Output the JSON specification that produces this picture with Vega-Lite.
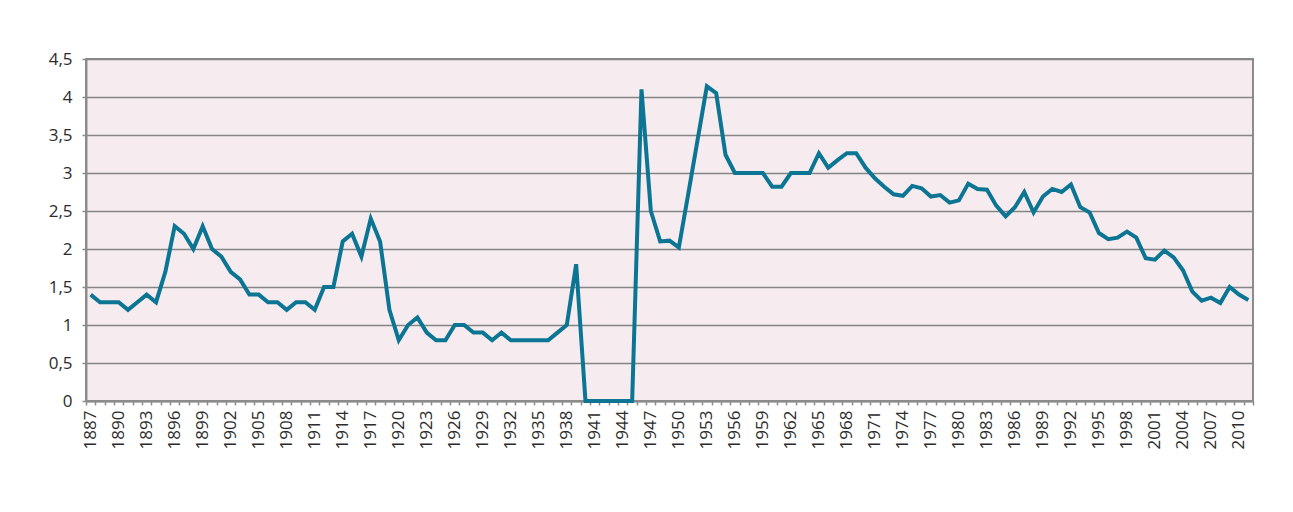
{
  "$schema": "https://vega.github.io/schema/vega-lite/v6.json",
  "autosize": "none",
  "width": 1167,
  "height": 342,
  "padding": {"left": 86, "top": 59, "right": 40, "bottom": 111},
  "background": "#ffffff",
  "config": {
    "font": "Open Sans",
    "view": {"fill": "#f6ecf0", "stroke": "#8c8c8c", "strokeWidth": 2},
    "axis": {
      "labelFont": "Open Sans",
      "labelFontSize": 17,
      "labelColor": "#2b2b2b",
      "domainColor": "#8c8c8c",
      "domainWidth": 2,
      "tickColor": "#8c8c8c",
      "tickWidth": 1.5,
      "gridColor": "#858585",
      "gridWidth": 1.6,
      "gridOpacity": 1,
      "title": null
    }
  },
  "data": {
    "values": [
      {"year": 1887, "value": 1.4}, {"year": 1888, "value": 1.3}, {"year": 1889, "value": 1.3},
      {"year": 1890, "value": 1.3}, {"year": 1891, "value": 1.2}, {"year": 1892, "value": 1.3},
      {"year": 1893, "value": 1.4}, {"year": 1894, "value": 1.3}, {"year": 1895, "value": 1.7},
      {"year": 1896, "value": 2.3}, {"year": 1897, "value": 2.2}, {"year": 1898, "value": 2.0},
      {"year": 1899, "value": 2.3}, {"year": 1900, "value": 2.0}, {"year": 1901, "value": 1.9},
      {"year": 1902, "value": 1.7}, {"year": 1903, "value": 1.6}, {"year": 1904, "value": 1.4},
      {"year": 1905, "value": 1.4}, {"year": 1906, "value": 1.3}, {"year": 1907, "value": 1.3},
      {"year": 1908, "value": 1.2}, {"year": 1909, "value": 1.3}, {"year": 1910, "value": 1.3},
      {"year": 1911, "value": 1.2}, {"year": 1912, "value": 1.5}, {"year": 1913, "value": 1.5},
      {"year": 1914, "value": 2.1}, {"year": 1915, "value": 2.2}, {"year": 1916, "value": 1.9},
      {"year": 1917, "value": 2.4}, {"year": 1918, "value": 2.1}, {"year": 1919, "value": 1.2},
      {"year": 1920, "value": 0.8}, {"year": 1921, "value": 1.0}, {"year": 1922, "value": 1.1},
      {"year": 1923, "value": 0.9}, {"year": 1924, "value": 0.8}, {"year": 1925, "value": 0.8},
      {"year": 1926, "value": 1.0}, {"year": 1927, "value": 1.0}, {"year": 1928, "value": 0.9},
      {"year": 1929, "value": 0.9}, {"year": 1930, "value": 0.8}, {"year": 1931, "value": 0.9},
      {"year": 1932, "value": 0.8}, {"year": 1933, "value": 0.8}, {"year": 1934, "value": 0.8},
      {"year": 1935, "value": 0.8}, {"year": 1936, "value": 0.8}, {"year": 1937, "value": 0.9},
      {"year": 1938, "value": 1.0}, {"year": 1939, "value": 1.8}, {"year": 1940, "value": 0},
      {"year": 1941, "value": 0}, {"year": 1942, "value": 0}, {"year": 1943, "value": 0},
      {"year": 1944, "value": 0}, {"year": 1945, "value": 0}, {"year": 1946, "value": 4.1},
      {"year": 1947, "value": 2.5}, {"year": 1948, "value": 2.1}, {"year": 1949, "value": 2.11},
      {"year": 1950, "value": 2.02}, {"year": 1951, "value": 2.72}, {"year": 1952, "value": 3.43},
      {"year": 1953, "value": 4.14}, {"year": 1954, "value": 4.05}, {"year": 1955, "value": 3.24},
      {"year": 1956, "value": 3.0}, {"year": 1957, "value": 3.0}, {"year": 1958, "value": 3.0},
      {"year": 1959, "value": 3.0}, {"year": 1960, "value": 2.82}, {"year": 1961, "value": 2.82},
      {"year": 1962, "value": 3.0}, {"year": 1963, "value": 3.0}, {"year": 1964, "value": 3.0},
      {"year": 1965, "value": 3.26}, {"year": 1966, "value": 3.07}, {"year": 1967, "value": 3.17},
      {"year": 1968, "value": 3.26}, {"year": 1969, "value": 3.26}, {"year": 1970, "value": 3.07},
      {"year": 1971, "value": 2.93}, {"year": 1972, "value": 2.82}, {"year": 1973, "value": 2.72},
      {"year": 1974, "value": 2.7}, {"year": 1975, "value": 2.83}, {"year": 1976, "value": 2.8},
      {"year": 1977, "value": 2.69}, {"year": 1978, "value": 2.71}, {"year": 1979, "value": 2.61},
      {"year": 1980, "value": 2.64}, {"year": 1981, "value": 2.86}, {"year": 1982, "value": 2.79},
      {"year": 1983, "value": 2.78}, {"year": 1984, "value": 2.57}, {"year": 1985, "value": 2.43},
      {"year": 1986, "value": 2.55}, {"year": 1987, "value": 2.75}, {"year": 1988, "value": 2.48},
      {"year": 1989, "value": 2.69}, {"year": 1990, "value": 2.79}, {"year": 1991, "value": 2.75},
      {"year": 1992, "value": 2.85}, {"year": 1993, "value": 2.55}, {"year": 1994, "value": 2.48},
      {"year": 1995, "value": 2.21}, {"year": 1996, "value": 2.13}, {"year": 1997, "value": 2.15},
      {"year": 1998, "value": 2.23}, {"year": 1999, "value": 2.15}, {"year": 2000, "value": 1.88},
      {"year": 2001, "value": 1.86}, {"year": 2002, "value": 1.98}, {"year": 2003, "value": 1.89},
      {"year": 2004, "value": 1.72}, {"year": 2005, "value": 1.44}, {"year": 2006, "value": 1.32},
      {"year": 2007, "value": 1.36}, {"year": 2008, "value": 1.29}, {"year": 2009, "value": 1.5},
      {"year": 2010, "value": 1.4}, {"year": 2011, "value": 1.33}
    ]
  },
  "mark": {"type": "line", "color": "#0b7593", "strokeWidth": 4, "strokeJoin": "miter"},
  "encoding": {
    "x": {
      "field": "year",
      "type": "ordinal",
      "bandPosition": 0.5,
      "scale": {"type": "band", "paddingInner": 0, "paddingOuter": 0},
      "axis": {
        "labelAngle": -90,
        "labelExpr": "(datum.value - 1887) % 3 === 0 ? datum.label : ''",
        "labelFontSize": 17,
        "tickBand": "extent",
        "tickSize": 4,
        "labelPadding": 5,
        "grid": false,
        "labelOverlap": false
      }
    },
    "y": {
      "field": "value",
      "type": "quantitative",
      "scale": {"domain": [0, 4.5], "nice": false, "zero": true},
      "axis": {
        "values": [0, 0.5, 1, 1.5, 2, 2.5, 3, 3.5, 4, 4.5],
        "format": "~g",
        "labelExpr": "replace(datum.label, '.', ',')",
        "labelFontSize": 17,
        "tickSize": 4,
        "labelPadding": 10,
        "grid": true
      }
    }
  }
}
